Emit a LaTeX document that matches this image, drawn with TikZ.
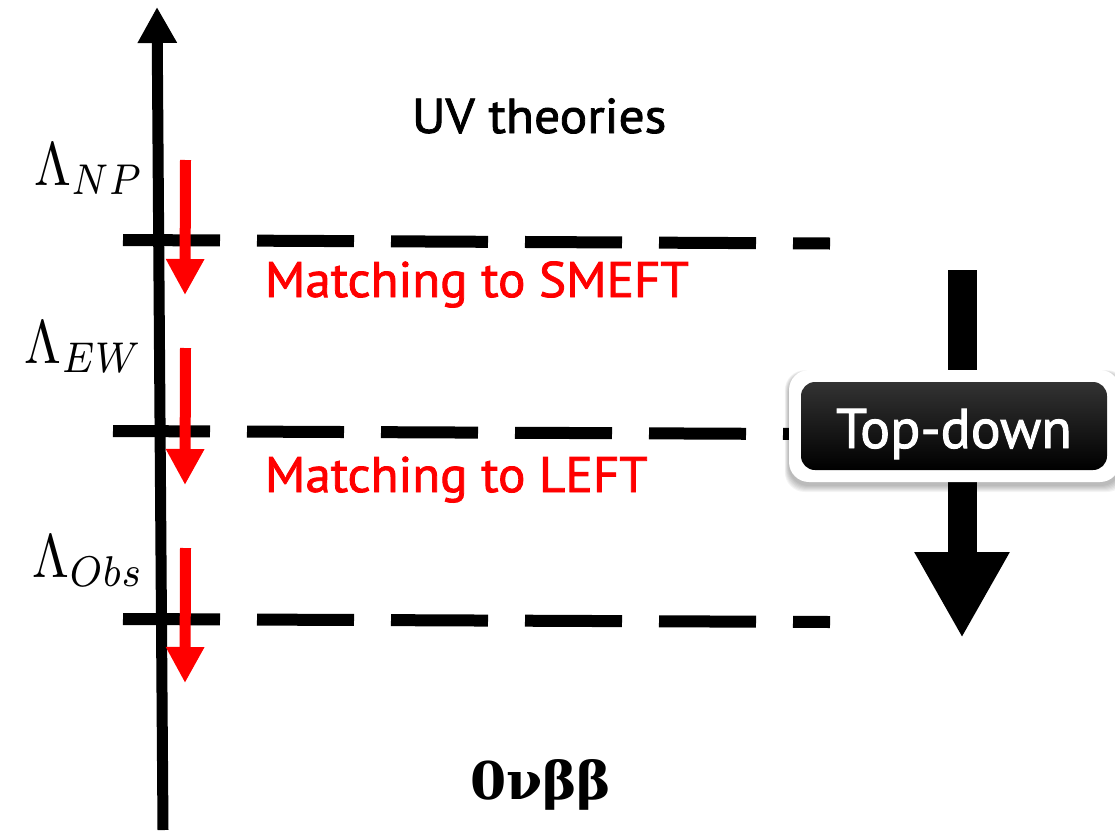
\documentclass[tikz,border=0pt]{standalone}
\usepackage{fontspec}
\usetikzlibrary{arrows.meta}
\newfontfamily\dinfont[FakeBold=1.6]{PT Sans}
\newfontfamily\serbold{DejaVu Serif}
\definecolor{pured}{RGB}{255,0,0}
\tikzset{
  txt/.style={inner sep=0pt, outer sep=0pt},
  scaleline/.style={line width=12pt, dash pattern=on 97pt off 37pt},
  redarrow/.style={pured, line width=11pt, -{Triangle[width=36pt,length=36pt]}},
  lab/.style={txt, anchor=base east, yscale=6.15, xscale=5.3},
  redtext/.style={txt, anchor=base west, xscale=1.022, text=pured, font=\dinfont\fontsize{50}{60}\selectfont},
}
\begin{document}
\begin{tikzpicture}[x=1pt,y=-1pt]
\useasboundingbox (0,0) rectangle (1115,835);
% coordinates
\coordinate (axb) at (163,830);
\coordinate (axt) at (157,7);
\coordinate (l1a) at (123,240);
\coordinate (l1b) at (830,243.5);
\coordinate (l2a) at (113,431);
\coordinate (l2b) at (800,434);
\coordinate (l3a) at (123,619);
\coordinate (l3b) at (830,622);
\coordinate (r1a) at (185.5,160);
\coordinate (r1b) at (185,295);
\coordinate (r2a) at (185.5,348);
\coordinate (r2b) at (185,485);
\coordinate (r3a) at (185.5,548);
\coordinate (r3b) at (185,683);
\coordinate (bga) at (962,270);
\coordinate (bgb) at (962,638);

% dashed scale lines
\draw[scaleline] (l1a) -- (l1b);
\draw[scaleline] (l2a) -- (l2b);
\draw[scaleline] (l3a) -- (l3b);

% energy axis
\draw[line width=11pt, -{Triangle[width=37pt,length=36pt]}] (axb) -- (axt);

% red matching arrows
\draw[redarrow] (r1a) -- (r1b);
\draw[redarrow] (r2a) -- (r2b);
\draw[redarrow] (r3a) -- (r3b);

% big top-down arrow
\draw[line width=29pt, -{Triangle[width=89pt,length=86pt]}] (bga) -- (bgb);

% top-down box: soft shadow, white frame, black label
\foreach \d in {1,2,...,7}{
  \fill[black, opacity=0.045, rounded corners=20pt]
    (789-\d*0.6,370+3-\d*0.4) rectangle (1120+\d,482+3+\d);
}
\fill[white, rounded corners=20pt] (789,370) rectangle (1120,482);
\node[txt, minimum width=306pt, minimum height=88pt, rounded corners=14pt,
      top color=black!80, bottom color=black, anchor=north west] (box) at (801,382) {};
\node[txt, text=white, anchor=base, font=\dinfont\fontsize{56}{60}\selectfont] (td) at (954,448) {Top-down};

% texts
\node[txt, anchor=base west, xscale=1.05, font=\dinfont\fontsize{49}{56}\selectfont] (uv) at (412,133) {UV theories};
\node[redtext] (m1) at (265,297) {Matching to SMEFT};
\node[redtext] (m2) at (265,492) {Matching to LEFT};
\node[txt, anchor=base west, font=\serbold\bfseries\fontsize{52}{56}\selectfont] (ovbb) at (470,799) {0νββ};

% scale labels
\node[lab] (lnp) at (144,185) {$\Lambda_{NP}$};
\node[lab] (lew) at (143,363) {$\Lambda_{EW}$};
\node[lab] (lobs) at (144,577) {$\Lambda_{Obs}$};
\end{tikzpicture}
\end{document}
